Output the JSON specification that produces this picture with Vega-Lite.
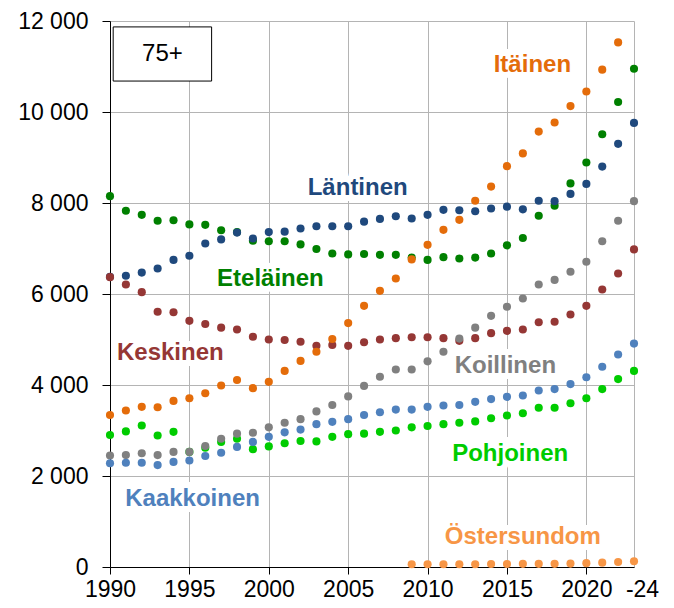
{
  "$schema": "https://vega.github.io/schema/vega-lite/v6.json",
  "autosize": {"type": "none"},
  "padding": {"left": 110, "top": 21, "right": 40, "bottom": 41},
  "width": 524,
  "height": 546,
  "background": "white",
  "config": {
    "view": {"stroke": null},
    "font": "Liberation Sans",
    "axis": {
      "labelFont": "Liberation Sans",
      "labelFontSize": 23,
      "labelColor": "black",
      "domainColor": "black",
      "tickColor": "black",
      "gridColor": "#b4b4b4",
      "gridWidth": 1,
      "title": null
    }
  },
  "datasets": {
    "pts": [
      {"s":"Pohjoinen","x":1990,"y":2900},{"s":"Pohjoinen","x":1991,"y":2980},{"s":"Pohjoinen","x":1992,"y":3110},{"s":"Pohjoinen","x":1993,"y":2890},{"s":"Pohjoinen","x":1994,"y":2970},{"s":"Pohjoinen","x":1995,"y":2530},{"s":"Pohjoinen","x":1996,"y":2620},{"s":"Pohjoinen","x":1997,"y":2750},{"s":"Pohjoinen","x":1998,"y":2820},{"s":"Pohjoinen","x":1999,"y":2590},{"s":"Pohjoinen","x":2000,"y":2650},{"s":"Pohjoinen","x":2001,"y":2720},{"s":"Pohjoinen","x":2002,"y":2770},{"s":"Pohjoinen","x":2003,"y":2760},{"s":"Pohjoinen","x":2004,"y":2860},{"s":"Pohjoinen","x":2005,"y":2920},{"s":"Pohjoinen","x":2006,"y":2930},{"s":"Pohjoinen","x":2007,"y":2970},{"s":"Pohjoinen","x":2008,"y":3000},{"s":"Pohjoinen","x":2009,"y":3070},{"s":"Pohjoinen","x":2010,"y":3100},{"s":"Pohjoinen","x":2011,"y":3140},{"s":"Pohjoinen","x":2012,"y":3170},{"s":"Pohjoinen","x":2013,"y":3200},{"s":"Pohjoinen","x":2014,"y":3270},{"s":"Pohjoinen","x":2015,"y":3330},{"s":"Pohjoinen","x":2016,"y":3380},{"s":"Pohjoinen","x":2017,"y":3500},{"s":"Pohjoinen","x":2018,"y":3500},{"s":"Pohjoinen","x":2019,"y":3600},{"s":"Pohjoinen","x":2020,"y":3710},{"s":"Pohjoinen","x":2021,"y":3910},{"s":"Pohjoinen","x":2022,"y":4130},{"s":"Pohjoinen","x":2023,"y":4310},
      {"s":"Eteläinen","x":1990,"y":8150},{"s":"Eteläinen","x":1991,"y":7830},{"s":"Eteläinen","x":1992,"y":7740},{"s":"Eteläinen","x":1993,"y":7610},{"s":"Eteläinen","x":1994,"y":7620},{"s":"Eteläinen","x":1995,"y":7530},{"s":"Eteläinen","x":1996,"y":7520},{"s":"Eteläinen","x":1997,"y":7400},{"s":"Eteläinen","x":1998,"y":7360},{"s":"Eteläinen","x":1999,"y":7170},{"s":"Eteläinen","x":2000,"y":7160},{"s":"Eteläinen","x":2001,"y":7160},{"s":"Eteläinen","x":2002,"y":7090},{"s":"Eteläinen","x":2003,"y":6990},{"s":"Eteläinen","x":2004,"y":6890},{"s":"Eteläinen","x":2005,"y":6870},{"s":"Eteläinen","x":2006,"y":6880},{"s":"Eteläinen","x":2007,"y":6860},{"s":"Eteläinen","x":2008,"y":6860},{"s":"Eteläinen","x":2009,"y":6800},{"s":"Eteläinen","x":2010,"y":6750},{"s":"Eteläinen","x":2011,"y":6810},{"s":"Eteläinen","x":2012,"y":6780},{"s":"Eteläinen","x":2013,"y":6800},{"s":"Eteläinen","x":2014,"y":6890},{"s":"Eteläinen","x":2015,"y":7070},{"s":"Eteläinen","x":2016,"y":7230},{"s":"Eteläinen","x":2017,"y":7720},{"s":"Eteläinen","x":2018,"y":7940},{"s":"Eteläinen","x":2019,"y":8430},{"s":"Eteläinen","x":2020,"y":8890},{"s":"Eteläinen","x":2021,"y":9510},{"s":"Eteläinen","x":2022,"y":10220},{"s":"Eteläinen","x":2023,"y":10950},
      {"s":"Läntinen","x":1990,"y":6380},{"s":"Läntinen","x":1991,"y":6400},{"s":"Läntinen","x":1992,"y":6470},{"s":"Läntinen","x":1993,"y":6560},{"s":"Läntinen","x":1994,"y":6750},{"s":"Läntinen","x":1995,"y":6840},{"s":"Läntinen","x":1996,"y":7110},{"s":"Läntinen","x":1997,"y":7200},{"s":"Läntinen","x":1998,"y":7350},{"s":"Läntinen","x":1999,"y":7220},{"s":"Läntinen","x":2000,"y":7360},{"s":"Läntinen","x":2001,"y":7370},{"s":"Läntinen","x":2002,"y":7440},{"s":"Läntinen","x":2003,"y":7490},{"s":"Läntinen","x":2004,"y":7490},{"s":"Läntinen","x":2005,"y":7490},{"s":"Läntinen","x":2006,"y":7590},{"s":"Läntinen","x":2007,"y":7650},{"s":"Läntinen","x":2008,"y":7710},{"s":"Läntinen","x":2009,"y":7660},{"s":"Läntinen","x":2010,"y":7740},{"s":"Läntinen","x":2011,"y":7850},{"s":"Läntinen","x":2012,"y":7840},{"s":"Läntinen","x":2013,"y":7820},{"s":"Läntinen","x":2014,"y":7880},{"s":"Läntinen","x":2015,"y":7920},{"s":"Läntinen","x":2016,"y":7860},{"s":"Läntinen","x":2017,"y":8050},{"s":"Läntinen","x":2018,"y":8040},{"s":"Läntinen","x":2019,"y":8200},{"s":"Läntinen","x":2020,"y":8420},{"s":"Läntinen","x":2021,"y":8800},{"s":"Läntinen","x":2022,"y":9300},{"s":"Läntinen","x":2023,"y":9760},
      {"s":"Keskinen","x":1990,"y":6370},{"s":"Keskinen","x":1991,"y":6210},{"s":"Keskinen","x":1992,"y":6040},{"s":"Keskinen","x":1993,"y":5610},{"s":"Keskinen","x":1994,"y":5600},{"s":"Keskinen","x":1995,"y":5410},{"s":"Keskinen","x":1996,"y":5340},{"s":"Keskinen","x":1997,"y":5260},{"s":"Keskinen","x":1998,"y":5220},{"s":"Keskinen","x":1999,"y":5060},{"s":"Keskinen","x":2000,"y":5000},{"s":"Keskinen","x":2001,"y":4990},{"s":"Keskinen","x":2002,"y":4950},{"s":"Keskinen","x":2003,"y":4860},{"s":"Keskinen","x":2004,"y":4880},{"s":"Keskinen","x":2005,"y":4860},{"s":"Keskinen","x":2006,"y":4940},{"s":"Keskinen","x":2007,"y":5000},{"s":"Keskinen","x":2008,"y":5030},{"s":"Keskinen","x":2009,"y":5050},{"s":"Keskinen","x":2010,"y":5050},{"s":"Keskinen","x":2011,"y":5030},{"s":"Keskinen","x":2012,"y":4970},{"s":"Keskinen","x":2013,"y":5030},{"s":"Keskinen","x":2014,"y":5140},{"s":"Keskinen","x":2015,"y":5190},{"s":"Keskinen","x":2016,"y":5220},{"s":"Keskinen","x":2017,"y":5380},{"s":"Keskinen","x":2018,"y":5390},{"s":"Keskinen","x":2019,"y":5550},{"s":"Keskinen","x":2020,"y":5740},{"s":"Keskinen","x":2021,"y":6100},{"s":"Keskinen","x":2022,"y":6450},{"s":"Keskinen","x":2023,"y":6980},
      {"s":"Itäinen","x":1990,"y":3340},{"s":"Itäinen","x":1991,"y":3440},{"s":"Itäinen","x":1992,"y":3520},{"s":"Itäinen","x":1993,"y":3510},{"s":"Itäinen","x":1994,"y":3650},{"s":"Itäinen","x":1995,"y":3710},{"s":"Itäinen","x":1996,"y":3820},{"s":"Itäinen","x":1997,"y":3990},{"s":"Itäinen","x":1998,"y":4110},{"s":"Itäinen","x":1999,"y":3930},{"s":"Itäinen","x":2000,"y":4070},{"s":"Itäinen","x":2001,"y":4310},{"s":"Itäinen","x":2002,"y":4530},{"s":"Itäinen","x":2003,"y":4730},{"s":"Itäinen","x":2004,"y":5010},{"s":"Itäinen","x":2005,"y":5360},{"s":"Itäinen","x":2006,"y":5740},{"s":"Itäinen","x":2007,"y":6070},{"s":"Itäinen","x":2008,"y":6340},{"s":"Itäinen","x":2009,"y":6760},{"s":"Itäinen","x":2010,"y":7080},{"s":"Itäinen","x":2011,"y":7410},{"s":"Itäinen","x":2012,"y":7630},{"s":"Itäinen","x":2013,"y":8050},{"s":"Itäinen","x":2014,"y":8360},{"s":"Itäinen","x":2015,"y":8810},{"s":"Itäinen","x":2016,"y":9090},{"s":"Itäinen","x":2017,"y":9570},{"s":"Itäinen","x":2018,"y":9770},{"s":"Itäinen","x":2019,"y":10130},{"s":"Itäinen","x":2020,"y":10450},{"s":"Itäinen","x":2021,"y":10930},{"s":"Itäinen","x":2022,"y":11530},
      {"s":"Koillinen","x":1990,"y":2450},{"s":"Koillinen","x":1991,"y":2460},{"s":"Koillinen","x":1992,"y":2500},{"s":"Koillinen","x":1993,"y":2460},{"s":"Koillinen","x":1994,"y":2530},{"s":"Koillinen","x":1995,"y":2530},{"s":"Koillinen","x":1996,"y":2660},{"s":"Koillinen","x":1997,"y":2820},{"s":"Koillinen","x":1998,"y":2930},{"s":"Koillinen","x":1999,"y":2950},{"s":"Koillinen","x":2000,"y":3070},{"s":"Koillinen","x":2001,"y":3170},{"s":"Koillinen","x":2002,"y":3250},{"s":"Koillinen","x":2003,"y":3420},{"s":"Koillinen","x":2004,"y":3560},{"s":"Koillinen","x":2005,"y":3750},{"s":"Koillinen","x":2006,"y":3980},{"s":"Koillinen","x":2007,"y":4180},{"s":"Koillinen","x":2008,"y":4340},{"s":"Koillinen","x":2009,"y":4340},{"s":"Koillinen","x":2010,"y":4520},{"s":"Koillinen","x":2011,"y":4730},{"s":"Koillinen","x":2012,"y":5020},{"s":"Koillinen","x":2013,"y":5260},{"s":"Koillinen","x":2014,"y":5520},{"s":"Koillinen","x":2015,"y":5720},{"s":"Koillinen","x":2016,"y":5900},{"s":"Koillinen","x":2017,"y":6210},{"s":"Koillinen","x":2018,"y":6310},{"s":"Koillinen","x":2019,"y":6490},{"s":"Koillinen","x":2020,"y":6710},{"s":"Koillinen","x":2021,"y":7160},{"s":"Koillinen","x":2022,"y":7610},{"s":"Koillinen","x":2023,"y":8040},
      {"s":"Kaakkoinen","x":1990,"y":2280},{"s":"Kaakkoinen","x":1991,"y":2290},{"s":"Kaakkoinen","x":1992,"y":2290},{"s":"Kaakkoinen","x":1993,"y":2240},{"s":"Kaakkoinen","x":1994,"y":2310},{"s":"Kaakkoinen","x":1995,"y":2340},{"s":"Kaakkoinen","x":1996,"y":2440},{"s":"Kaakkoinen","x":1997,"y":2510},{"s":"Kaakkoinen","x":1998,"y":2640},{"s":"Kaakkoinen","x":1999,"y":2750},{"s":"Kaakkoinen","x":2000,"y":2860},{"s":"Kaakkoinen","x":2001,"y":2960},{"s":"Kaakkoinen","x":2002,"y":3020},{"s":"Kaakkoinen","x":2003,"y":3140},{"s":"Kaakkoinen","x":2004,"y":3190},{"s":"Kaakkoinen","x":2005,"y":3250},{"s":"Kaakkoinen","x":2006,"y":3340},{"s":"Kaakkoinen","x":2007,"y":3400},{"s":"Kaakkoinen","x":2008,"y":3460},{"s":"Kaakkoinen","x":2009,"y":3460},{"s":"Kaakkoinen","x":2010,"y":3520},{"s":"Kaakkoinen","x":2011,"y":3550},{"s":"Kaakkoinen","x":2012,"y":3560},{"s":"Kaakkoinen","x":2013,"y":3630},{"s":"Kaakkoinen","x":2014,"y":3690},{"s":"Kaakkoinen","x":2015,"y":3740},{"s":"Kaakkoinen","x":2016,"y":3770},{"s":"Kaakkoinen","x":2017,"y":3880},{"s":"Kaakkoinen","x":2018,"y":3910},{"s":"Kaakkoinen","x":2019,"y":4020},{"s":"Kaakkoinen","x":2020,"y":4170},{"s":"Kaakkoinen","x":2021,"y":4400},{"s":"Kaakkoinen","x":2022,"y":4670},{"s":"Kaakkoinen","x":2023,"y":4910},
      {"s":"Östersundom","x":2009,"y":60},{"s":"Östersundom","x":2010,"y":60},{"s":"Östersundom","x":2011,"y":60},{"s":"Östersundom","x":2012,"y":60},{"s":"Östersundom","x":2013,"y":60},{"s":"Östersundom","x":2014,"y":65},{"s":"Östersundom","x":2015,"y":65},{"s":"Östersundom","x":2016,"y":70},{"s":"Östersundom","x":2017,"y":70},{"s":"Östersundom","x":2018,"y":70},{"s":"Östersundom","x":2019,"y":75},{"s":"Östersundom","x":2020,"y":85},{"s":"Östersundom","x":2021,"y":95},{"s":"Östersundom","x":2022,"y":110},{"s":"Östersundom","x":2023,"y":125}
    ],
    "labels": [
      {"s":"Läntinen","x":2005.6,"y":8330},
      {"s":"Eteläinen","x":2000.1,"y":6330},
      {"s":"Itäinen","x":2016.6,"y":11030},
      {"s":"Keskinen","x":1993.8,"y":4710},
      {"s":"Kaakkoinen","x":1995.2,"y":1495},
      {"s":"Koillinen","x":2014.9,"y":4420},
      {"s":"Pohjoinen","x":2015.2,"y":2480},
      {"s":"Östersundom","x":2016.0,"y":666}
    ],
    "box": [
      {"t":"75+","x":1990.2,"x2":1996.4,"y":10680,"y2":11870,"tx":1993.3,"ty":11275}
    ]
  },
  "encoding": {
    "x": {
      "type": "quantitative",
      "scale": {"domain": [1990, 2023], "nice": false, "zero": false},
      "axis": {
        "values": [1990, 1995, 2000, 2005, 2010, 2015, 2020, 2023],
        "labelExpr": "datum.value == 2023 ? '-24' : datum.value",
        "labelOffset": {"condition": {"test": "datum.value == 2023", "value": 8}, "value": 0},
        "tickSize": 7,
        "labelPadding": 4,
        "labelFlush": false,
        "labelOverlap": false,
        "grid": true,
        "tickColor": {"condition": {"test": "datum.value == 2023", "value": "transparent"}, "value": "black"}
      }
    },
    "y": {
      "type": "quantitative",
      "scale": {"domain": [0, 12000], "nice": false},
      "axis": {
        "values": [0, 2000, 4000, 6000, 8000, 10000, 12000],
        "labelExpr": "replace(format(datum.value, ','), ',', ' ')",
        "tickSize": 8,
        "labelPadding": 14,
        "grid": true
      }
    }
  },
  "layer": [
    {
      "data": {"name": "labels"},
      "mark": {"type": "text", "font": "Liberation Sans", "fontSize": 24, "fontWeight": "bold", "align": "center", "baseline": "middle", "fill": "white", "stroke": "white", "strokeWidth": 12, "strokeJoin": "miter"},
      "encoding": {
        "x": {"field": "x", "type": "quantitative"},
        "y": {"field": "y", "type": "quantitative"},
        "text": {"field": "s"}
      }
    },
    {
      "data": {"name": "pts"},
      "mark": {"type": "point", "filled": true, "shape": "circle", "size": 66, "opacity": 1},
      "encoding": {
        "x": {"field": "x", "type": "quantitative"},
        "y": {"field": "y", "type": "quantitative"},
        "color": {
          "field": "s", "type": "nominal", "legend": null,
          "scale": {
            "domain": ["Läntinen", "Eteläinen", "Itäinen", "Keskinen", "Koillinen", "Pohjoinen", "Kaakkoinen", "Östersundom"],
            "range": ["#1F497D", "#008000", "#E46C0A", "#953735", "#808080", "#00CC00", "#4F81BD", "#F79646"]
          }
        }
      }
    },
    {
      "data": {"name": "labels"},
      "mark": {"type": "text", "font": "Liberation Sans", "fontSize": 24, "fontWeight": "bold", "align": "center", "baseline": "middle"},
      "encoding": {
        "x": {"field": "x", "type": "quantitative"},
        "y": {"field": "y", "type": "quantitative"},
        "text": {"field": "s"},
        "color": {"field": "s", "type": "nominal", "legend": null}
      }
    },
    {
      "data": {"name": "box"},
      "mark": {"type": "rect", "fill": "white", "stroke": "black", "strokeWidth": 1},
      "encoding": {
        "x": {"field": "x", "type": "quantitative"},
        "x2": {"field": "x2"},
        "y": {"field": "y", "type": "quantitative"},
        "y2": {"field": "y2"}
      }
    },
    {
      "data": {"name": "box"},
      "mark": {"type": "text", "font": "Liberation Sans", "fontSize": 24, "align": "center", "baseline": "middle", "color": "black"},
      "encoding": {
        "x": {"field": "tx", "type": "quantitative"},
        "y": {"field": "ty", "type": "quantitative"},
        "text": {"field": "t"}
      }
    }
  ]
}
